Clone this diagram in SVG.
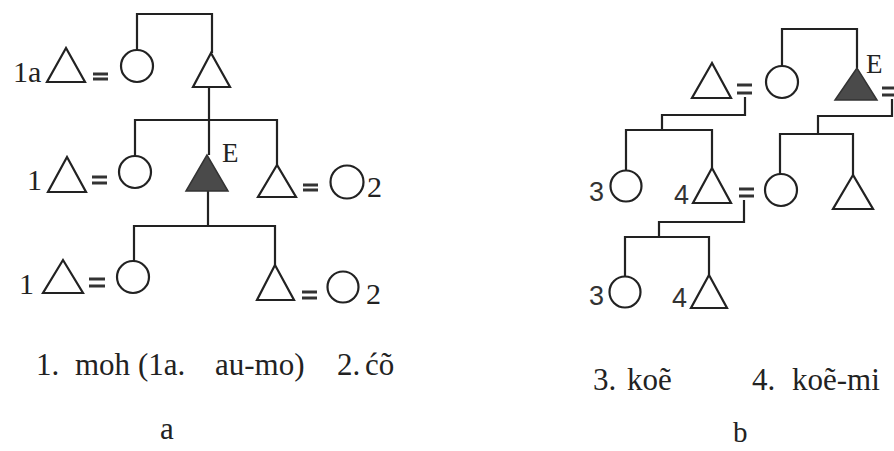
<svg xmlns="http://www.w3.org/2000/svg" width="894" height="451" viewBox="0 0 894 451">
<style>
.sh{fill:none;stroke:#222;stroke-width:2.2}
.ego{fill:#4a4a4a;stroke:#333;stroke-width:1.5}
.ln{fill:none;stroke:#222;stroke-width:2.2}
.eq{stroke:#333;stroke-width:3}
.lab{font-family:"Liberation Serif",serif;font-size:30px;fill:#222}
.num{font-family:"Liberation Sans",sans-serif;font-size:27px;fill:#333}
.cap{font-family:"Liberation Serif",serif;font-size:31px;fill:#222}
.e{font-family:"Liberation Serif",serif;font-size:27px;fill:#222}
</style>
<rect width="894" height="451" fill="#fff"/>
<g id="connectors">
<!-- diagram a -->
<path class="ln" d="M137,50 V14 H212 V53"/>
<path class="ln" d="M209,87 V155"/>
<path class="ln" d="M135,156 V120 H277 V165"/>
<path class="ln" d="M208,191 V226"/>
<path class="ln" d="M134,261 V226 H275 V265"/>
<!-- diagram b -->
<path class="ln" d="M782,66 V29 H857 V68"/>
<path class="ln" d="M745,97 V115 H662 V130"/>
<path class="ln" d="M626,170 V130 H712 V168"/>
<path class="ln" d="M892,99 V116 H818 V134"/>
<path class="ln" d="M780,174 V134 H853 V175"/>
<path class="ln" d="M744,200 V222 H659 V237"/>
<path class="ln" d="M625,277 V237 H709 V275"/>
<!-- marriage signs -->
<g class="eq">
<line x1="93" y1="74" x2="108" y2="74"/><line x1="93" y1="79" x2="108" y2="79"/>
<line x1="92" y1="177" x2="107" y2="177"/><line x1="92" y1="183" x2="107" y2="183"/>
<line x1="303" y1="185" x2="318" y2="185"/><line x1="303" y1="190" x2="318" y2="190"/>
<line x1="89" y1="279" x2="105" y2="279"/><line x1="89" y1="286" x2="105" y2="286"/>
<line x1="302" y1="292" x2="317" y2="292"/><line x1="302" y1="298" x2="317" y2="298"/>
<line x1="737" y1="85" x2="752" y2="85"/><line x1="737" y1="93" x2="752" y2="93"/>
<line x1="882" y1="88" x2="894" y2="88"/><line x1="882" y1="95" x2="894" y2="95"/>
<line x1="739" y1="189" x2="754" y2="189"/><line x1="739" y1="196" x2="754" y2="196"/>
</g>
</g>
<!-- diagram a nodes -->
<g id="a-1a"><polygon class="sh" points="66,48 47,82 85,82"/><text class="lab" x="13" y="82">1a</text></g>
<g id="a-w1"><circle class="sh" cx="137" cy="66" r="16"/></g>
<g id="a-f1"><polygon class="sh" points="211,53 193,87 230,87"/></g>
<g id="a-1r2"><polygon class="sh" points="67,157 48,192 86,192"/><text class="lab" x="27" y="190">1</text></g>
<g id="a-w2"><circle class="sh" cx="135" cy="172" r="16"/></g>
<g id="a-ego"><polygon class="ego" points="207,155 186,191 228,191"/><text class="e" x="222" y="162">E</text></g>
<g id="a-b2"><polygon class="sh" points="277,165 258,197 296,197"/></g>
<g id="a-w2r"><circle class="sh" cx="347" cy="182" r="16.5"/><text class="lab" x="367" y="197">2</text></g>
<g id="a-1r3"><polygon class="sh" points="63,260 43,293 83,293"/><text class="lab" x="19" y="294">1</text></g>
<g id="a-w3"><circle class="sh" cx="133" cy="277" r="16"/></g>
<g id="a-b3"><polygon class="sh" points="275,265 257,300 294,300"/></g>
<g id="a-w3r"><circle class="sh" cx="343" cy="287" r="15.5"/><text class="lab" x="366" y="304">2</text></g>
<!-- diagram b nodes -->
<g id="b-m0"><polygon class="sh" points="712,63 692,98 731,98"/></g>
<g id="b-w0"><circle class="sh" cx="782" cy="82" r="16"/></g>
<g id="b-ego"><polygon class="ego" points="857,68 835,100 877,100"/><text class="e" x="866" y="73">E</text></g>
<g id="b-3a"><circle class="sh" cx="626" cy="186" r="15.5"/><text class="num" x="589" y="201">3</text></g>
<g id="b-4a"><polygon class="sh" points="712,168 693,203 731,203"/><text class="num" x="674" y="204">4</text></g>
<g id="b-w1"><circle class="sh" cx="781" cy="190" r="16"/></g>
<g id="b-m1"><polygon class="sh" points="853,175 833,209 873,209"/></g>
<g id="b-3b"><circle class="sh" cx="625" cy="292" r="15.5"/><text class="num" x="589" y="305">3</text></g>
<g id="b-4b"><polygon class="sh" points="709,275 691,308 727,308"/><text class="num" x="672" y="307">4</text></g>
<!-- captions -->
<text class="cap" y="375"><tspan x="36">1.</tspan><tspan x="75">moh</tspan><tspan x="138">(1a.</tspan><tspan x="215">au-mo)</tspan><tspan x="337">2.</tspan><tspan x="365">ćõ</tspan></text>
<text class="cap" x="160" y="439">a</text>
<text class="cap" y="390"><tspan x="593">3.</tspan><tspan x="627">koẽ</tspan><tspan x="752">4.</tspan><tspan x="792">koẽ-mi</tspan></text>
<text class="cap" style="font-size:29px" x="733" y="442">b</text>
</svg>
